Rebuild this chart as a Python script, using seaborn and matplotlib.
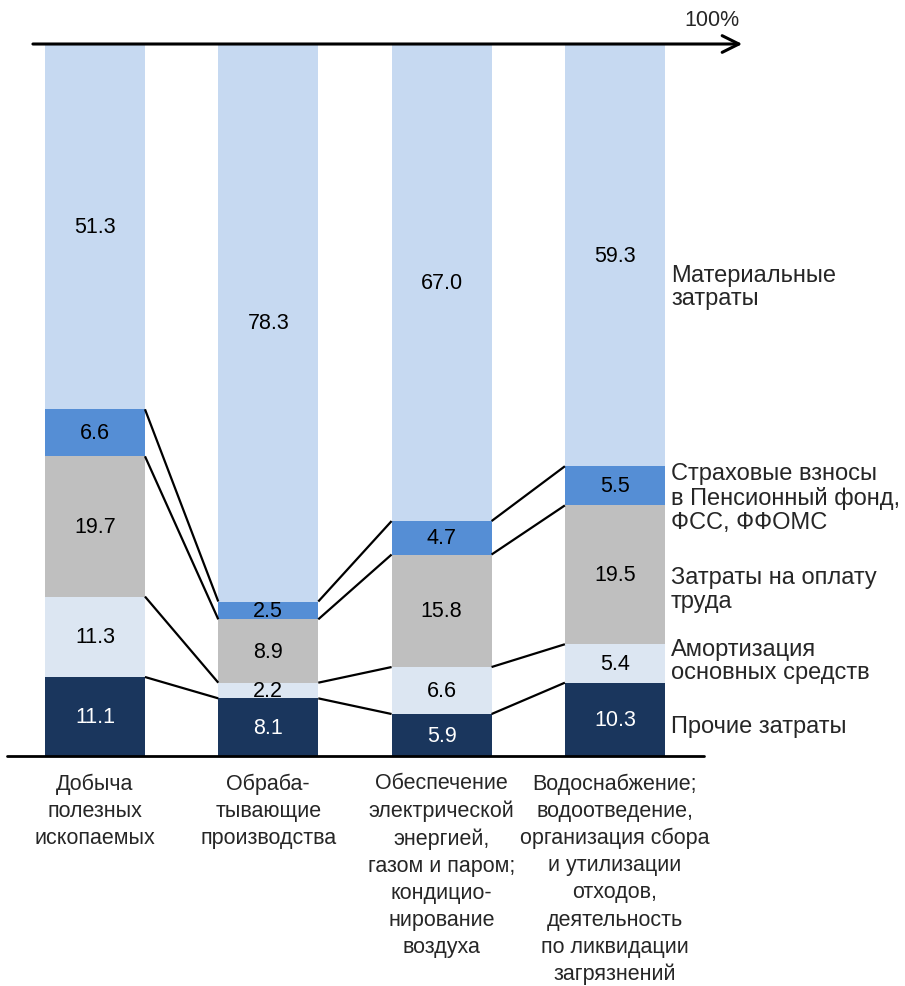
import numpy as np
import pandas as pd
import seaborn as sns
import matplotlib.pyplot as plt

categories = ["Добыча\nполезных\nископаемых",
              "Обраба-\nтывающие\nпроизводства",
              "Обеспечение\nэлектрической\nэнергией,\nгазом и паром;\nкондицио-\nнирование\nвоздуха",
              "Водоснабжение;\nводоотведение,\nорганизация сбора\nи утилизации\nотходов,\nдеятельность\nпо ликвидации\nзагрязнений"]

# components from bottom to top
other = [11.1, 8.1, 5.9, 10.3]
amort = [11.3, 2.2, 6.6, 5.4]
wages = [19.7, 8.9, 15.8, 19.5]
insurance = [6.6, 2.5, 4.7, 5.5]
material = [51.3, 78.3, 67.0, 59.3]

series_names = ["Прочие затраты", "Амортизация\nосновных средств",
                "Затраты на оплату\nтруда",
                "Страховые взносы\nв Пенсионный фонд,\nФСС, ФФОМС",
                "Материальные\nзатраты"]
colors = ["#1a365d", "#dce6f2", "#bfbfbf", "#558ed5", "#c6d9f1"]
text_colors = ["white", "black", "black", "black", "black"]
# label y positions for the right-hand legend text
legend_y = [4.2, 13.4, 23.5, 36.3, 65.95]

sns.set_style("white")
plt.rcParams['font.family'] = ['Liberation Sans', 'DejaVu Sans']

vals = np.array([other, amort, wages, insurance, material])
cum = vals.cumsum(axis=0)
xs = np.arange(len(categories))

fig = plt.figure(figsize=(9.05, 9.87), dpi=100)
ax = fig.add_axes([0, 0.2330, 1, 0.7214])

width = 0.577
# draw cumulative bars from top to bottom so each layer overlays the previous
for k in range(len(vals) - 1, -1, -1):
    df = pd.DataFrame({"cat": [str(i) for i in xs], "val": cum[k]})
    sns.barplot(data=df, x="cat", y="val", color=colors[k], saturation=1,
                width=width, ax=ax, edgecolor="none", linewidth=0)

# value labels
for k in range(len(vals)):
    for i in xs:
        mid = cum[k][i] - vals[k][i] / 2
        ax.text(i, mid, f"{vals[k][i]:.1f}", ha="center", va="center",
                fontsize=15.5, color=text_colors[k])

# connector lines between bars
for k in range(len(vals) - 1):
    for i in xs[:-1]:
        ax.plot([i + width / 2, i + 1 - width / 2], [cum[k][i], cum[k][i + 1]],
                color="black", lw=1.6, solid_capstyle="butt", clip_on=False)

# right-hand labels
for name, y in zip(series_names, legend_y):
    ax.text(3.324, y, name, ha="left", va="center", fontsize=17,
            linespacing=1.1)

# category labels
for i, c in zip(xs, categories):
    ax.text(i, -2.3, c, ha="center", va="top", fontsize=15.5, linespacing=1.38)

# top 100% arrow and baseline
ax.annotate("", xy=(3.735, 100), xytext=(-0.358, 100),
            arrowprops=dict(arrowstyle="->", lw=2.2, color="black",
                            mutation_scale=30, shrinkA=0, shrinkB=0),
            annotation_clip=False)
ax.text(3.56, 103.5, "100%", ha="center", va="center", fontsize=15.5)
ax.plot([-0.508, 3.514], [0, 0], color="black", lw=2, clip_on=False)

ax.set_xlim(-0.548, 4.674)
ax.set_ylim(0, 100)
ax.axis("off")

fig.savefig("out.png", dpi=100)
